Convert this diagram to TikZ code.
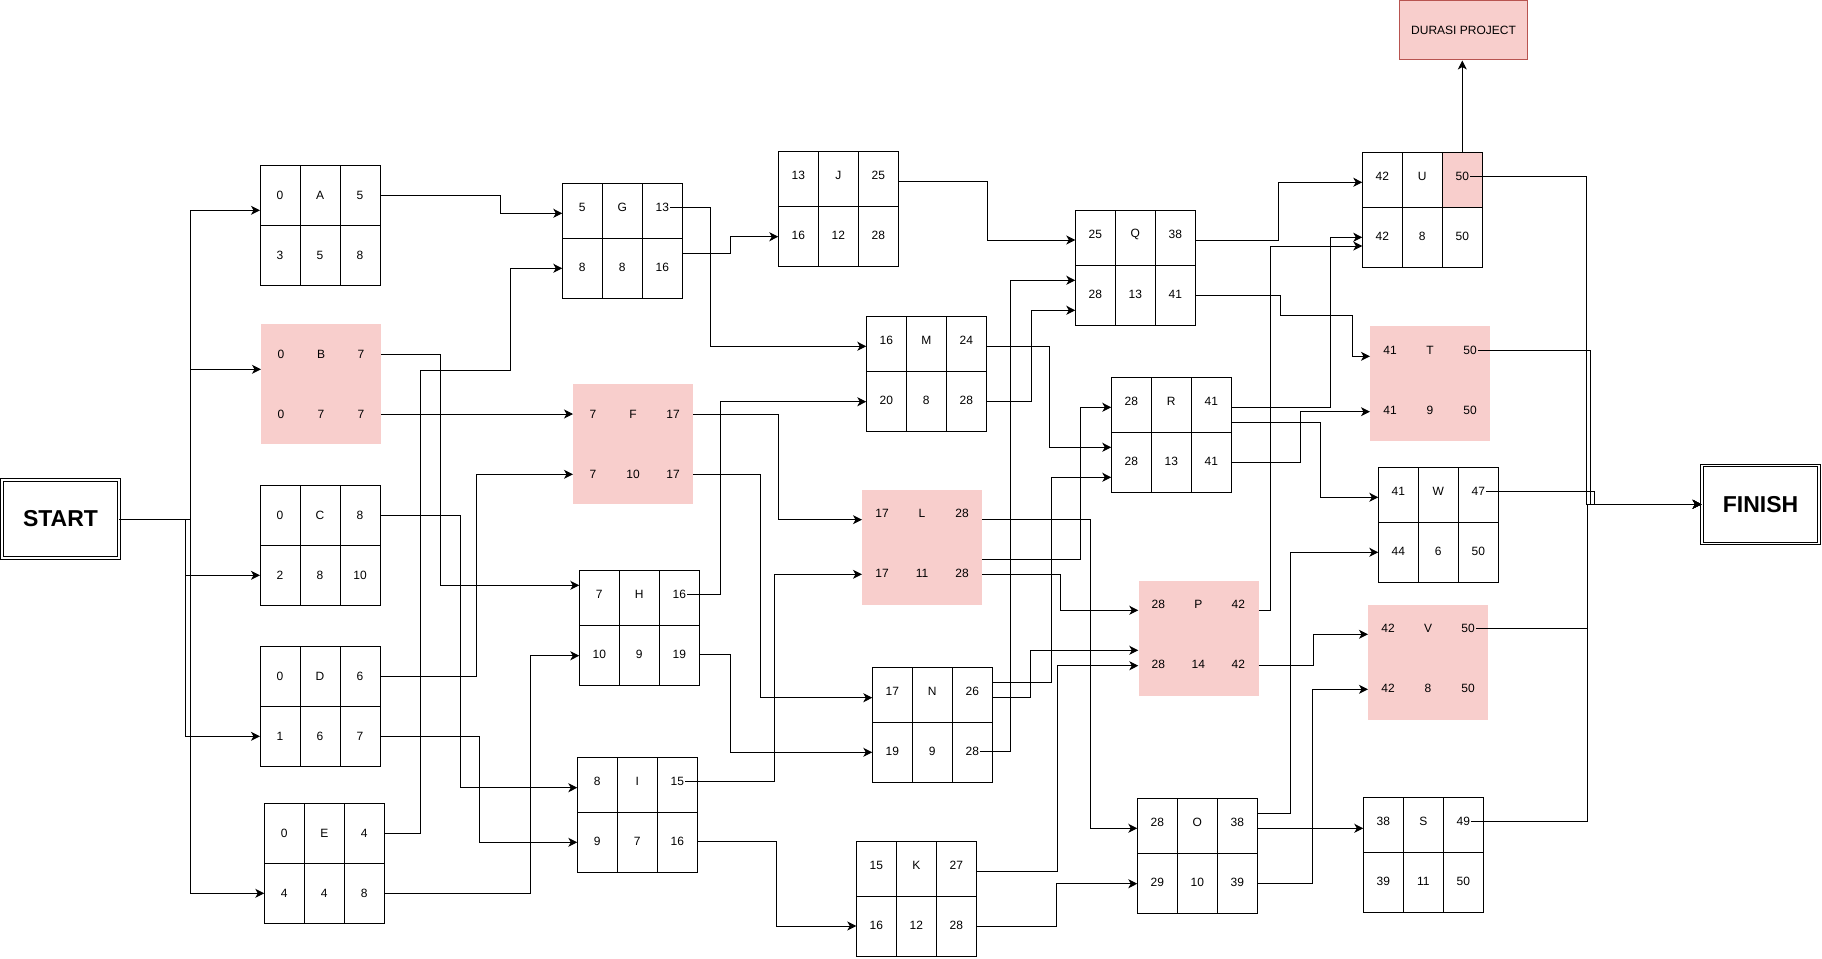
\documentclass[tikz,border=0pt]{standalone}
\usepackage{fontspec}
\setmainfont{Liberation Sans}
\usetikzlibrary{arrows.meta,calc,backgrounds}
\definecolor{critred}{HTML}{F8CECC}
\definecolor{critline}{HTML}{B85450}

\begin{document}
\begin{tikzpicture}[x=1pt,y=-1pt,
  link/.style={line width=1pt,-{Stealth[length=9pt,width=9pt,inset=2.5pt]}},
  cell/.style={inner sep=1pt,font=\fontsize{12}{14}\selectfont},
  box/.style={rectangle,inner sep=0pt,minimum width=120pt,anchor=north west},
  short/.code={\def\rowa{24}\def\rowb{84}\def\rowsplit{55}\def\boxh{115}},
  tall/.code={\def\rowa{30}\def\rowb{90}\def\rowsplit{60}\def\boxh{120}},
  plain/.style={boxline/.style={draw=black,line width=1pt},gridline/.style={draw=black,line width=1pt}},
  crit/.style={boxline/.style={fill=critred},gridline/.style={draw=none}},
  term/.style={draw,double,double distance=1.6pt,line width=0.9pt,inner sep=0pt,
    minimum width=117pt,minimum height=78pt,font=\bfseries\fontsize{23}{27}\selectfont}]

  \def\act#1#2(#3)#4#5{%
    \begin{scope}[short,plain,#1]
      \node[box,boxline,minimum height=\boxh pt] (#2) at (#3) {};
      \path[gridline] ($(#2.north west)+(40,0)$) -- ++(0,\boxh)
        ($(#2.north west)+(80,0)$) -- ++(0,\boxh)
        ($(#2.north west)+(0,\rowsplit)$) -- ++(120,0);
      \foreach \v [count=\i] in {#4}
        \node[cell] (#2-a\i) at ($(#2.north west)+(\i*40-20,\rowa)$) {\v};
      \foreach \v [count=\i] in {#5}
        \node[cell] (#2-b\i) at ($(#2.north west)+(\i*40-20,\rowb)$) {\v};
    \end{scope}
  }

  \useasboundingbox (0,0) rectangle (1822,958);

  \node[term] (START) at (60.5,519) {START};
  \node[term] (FINISH) at (1760.5,504.3) {FINISH};
  \node[draw=critline,fill=critred,line width=1pt,minimum width=128pt,minimum height=59pt,
    font=\fontsize{12}{14}\selectfont] (DUR) at (1463.5,30.5) {DURASI PROJECT};

  \act{tall}{A}(260,165){0,A,5}{3,5,8}
  \act{tall,crit}{B}(261,324){0,B,7}{0,7,7}
  \act{tall}{C}(260,485){0,C,8}{2,8,10}
  \act{tall}{D}(260,646.3){0,D,6}{1,6,7}
  \act{tall}{E}(264.3,803.3){0,E,4}{4,4,8}
  \act{tall,crit}{F}(573,384){7,F,17}{7,10,17}
  \act{}{G}(562.3,183.3){5,G,13}{8,8,16}
  \act{}{H}(579.3,570.3){7,H,16}{10,9,19}
  \act{}{I}(577.3,757.3){8,I,15}{9,7,16}
  \act{}{J}(778.3,151.3){13,J,25}{16,12,28}
  \act{}{M}(866.3,316.3){16,M,24}{20,8,28}
  \act{crit}{L}(862,489.3){17,L,28}{17,11,28}
  \act{}{N}(872.3,667.3){17,N,26}{19,9,28}
  \act{}{K}(856.3,841.3){15,K,27}{16,12,28}
  \act{}{Q}(1075.3,210.3){25,Q,38}{28,13,41}
  \act{}{R}(1111.3,377.3){28,R,41}{28,13,41}
  \act{crit}{P}(1138.3,580.3){28,P,42}{28,14,42}
  \act{}{O}(1137.3,798.3){28,O,38}{29,10,39}
  \act{}{U}(1362.3,152.3){42,U,50}{42,8,50}
  \act{crit}{T}(1370,326){41,T,50}{41,9,50}
  \act{}{W}(1378.3,467.3){41,W,47}{44,6,50}
  \act{crit}{V}(1368,604.3){42,V,50}{42,8,50}
  \act{}{S}(1363.3,797.3){38,S,49}{39,11,50}

  % end of the critical path
  \begin{scope}[on background layer]
    \fill[critred] ($(U.north east)+(-40,0)$) rectangle ($(U.north east)+(0,55)$);
  \end{scope}

  \draw[link] (START.east) -| (190,210.3) -- (A.west |- 0,210.3);
  \draw[link] (START.east) -| (190,369.3) -- (B.west |- 0,369.3);
  \draw[link] (START.east) -| (185.3,575.3) -- (C.west |- 0,575.3);
  \draw[link] (START.east) -| (185.3,736.3) -- (D.west |- 0,736.3);
  \draw[link] (START.east) -| (190,893.3) -- (E.west |- 0,893.3);

  \draw[link] (A.east |- A-a3) -| (500.3,213.3) -- (G.west |- 0,213.3);
  \draw[link] (E.east |- E-a3) -| (420.7,370) -| (510,268.3) -- (G.west |- 0,268.3);
  \draw[link] (B.east |- B-a3) -| (440.3,585.3) -- (H.west |- 0,585.3);
  \draw[link] (B.east |- B-b3) -- (F.west |- B-b3);
  \draw[link] (C.east |- C-a3) -| (460.7,787.7) -- (I.west |- 0,787.7);
  \draw[link] (D.east |- D-a3) -| (476.7,474.3) -- (F.west |- 0,474.3);
  \draw[link] (D.east |- D-b3) -| (479,842.3) -- (I.west |- 0,842.3);
  \draw[link] (E.east |- E-b3) -| (530.3,655.7) -- (H.west |- 0,655.7);

  \draw[link] (G-a3.east) -| (710.3,346.3) -- (M.west |- 0,346.3);
  \draw[link] (G.east |- 0,253.3) -| (730.3,236.7) -- (J.west |- 0,236.7);
  \draw[link] (H-a3.east) -| (720.3,401.7) -- (M.west |- 0,401.7);
  \draw[link] (F.east |- F-a3) -| (778,519.7) -- (L.west |- 0,519.7);
  \draw[link] (F.east |- F-b3) -| (760.7,697.7) -- (N.west |- 0,697.7);
  \draw[link] (H.east |- H-b3) -| (730.3,752.3) -- (N.west |- 0,752.3);
  \draw[link] (I-a3.east) -| (774.7,574.3) -- (L.west |- 0,574.3);
  \draw[link] (I.east |- I-b3) -| (776.7,926) -- (K.west |- 0,926);

  \draw[link] (J.east |- 0,181.7) -| (987,240) -- (Q.west |- 0,240);
  \draw[link] (M.east |- 0,346.3) -| (1049,447.3) -- (R.west |- 0,447.3);
  \draw[link] (M.east |- 0,401.7) -| (1031,310.3) -- (Q.west |- 0,310.3);
  \draw[link] (N-b3.east) -| (1010.3,280.3) -- (Q.west |- 0,280.3);
  \draw[link] (L.east |- 0,559) -| (1080.3,407.3) -- (R.west |- 0,407.3);
  \draw[link] (N.east |- 0,682.3) -| (1051.3,477.3) -- (R.west |- 0,477.3);
  \draw[link] (N.east |- 0,697.3) -| (1030.7,650.3) -- (P.west |- 0,650.3);
  \draw[link] (L.east |- 0,519.7) -| (1090.3,828.3) -- (O.west |- 0,828.3);
  \draw[link] (L.east |- 0,574.7) -| (1060.3,610.3) -- (P.west |- 0,610.3);
  \draw[link] (K.east |- 0,871.3) -| (1057.3,665.7) -- (P.west |- 0,665.7);
  \draw[link] (K.east |- 0,926) -| (1056.7,883.7) -- (O.west |- 0,883.7);

  \draw[link] (P.east |- 0,610.3) -| (1270.3,246) -- (U.west |- 0,246);
  \draw[link] (Q.east |- 0,240) -| (1278.7,182.3) -- (U.west |- 0,182.3);
  \draw[link] (R.east |- 0,407.3) -| (1330.3,237.3) -- (U.west |- 0,237.3);
  \draw[link] (Q.east |- 0,295.3) -| (1280,315) -| (1352.7,356.3) -- (T.west |- 0,356.3);
  \draw[link] (R.east |- 0,422.7) -| (1320.3,497.3) -- (W.west |- 0,497.3);
  \draw[link] (R.east |- 0,462.3) -| (1300.7,411.7) -- (T.west |- 0,411.7);
  \draw[link] (O.east |- 0,813.3) -| (1290.3,552.3) -- (W.west |- 0,552.3);
  \draw[link] (O.east |- 0,828.3) -- (S.west |- 0,828.3);
  \draw[link] (O.east |- 0,883.7) -| (1312.7,689.3) -- (V.west |- 0,689.3);
  \draw[link] (P.east |- 0,665.7) -| (1313.3,634.3) -- (V.west |- 0,634.3);

  \draw[link] (U.north -| U-a3) -- (DUR.south -| U-a3);
  \draw[link] (U-a3.east) -| (1586.7,504.3) -- (FINISH.west);
  \draw[link] (T-a3.east) -| (1590,504.3) -- (FINISH.west);
  \draw[link] (W-a3.east) -| (1594.3,504.3) -- (FINISH.west);
  \draw[link] (V-a3.east) -| (1587,504.3) -- (FINISH.west);
  \draw[link] (S-a3.east) -| (1587,504.3) -- (FINISH.west);

\end{tikzpicture}
\end{document}
